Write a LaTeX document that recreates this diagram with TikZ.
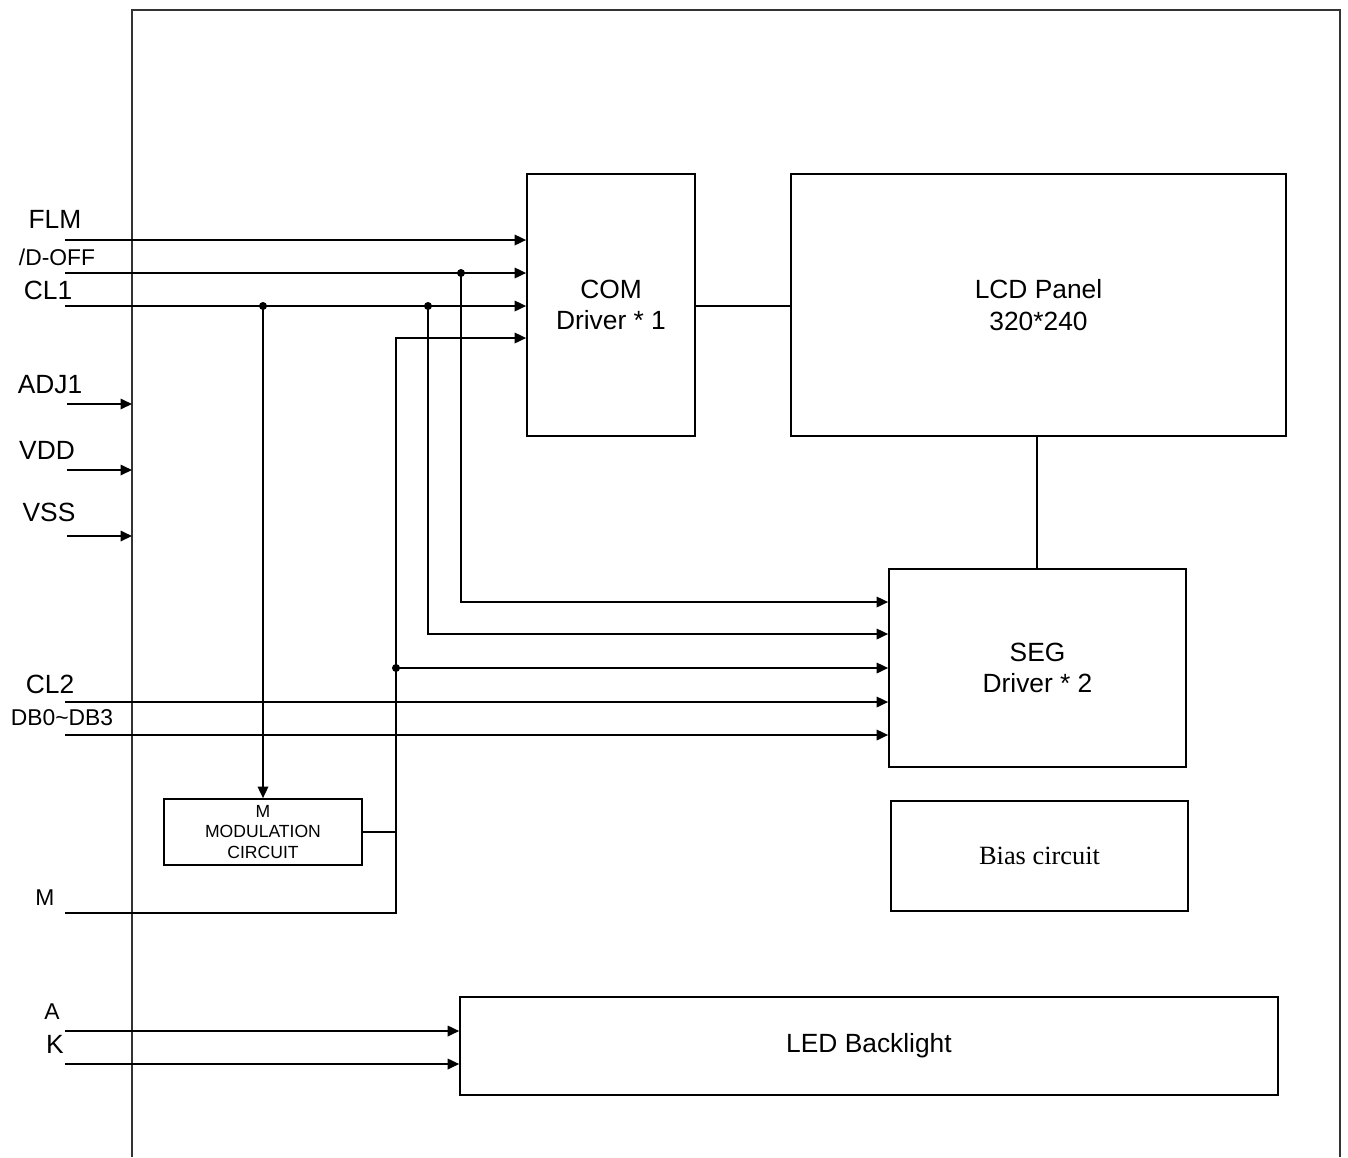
\documentclass[tikz,border=0pt]{standalone}
\usepackage{fontspec}
\setmainfont{Liberation Sans}
\newfontfamily\biasfont{Liberation Serif}
\usetikzlibrary{arrows.meta, positioning}

\begin{document}
\begin{tikzpicture}[
  x=0.02cm, y=-0.02cm,
  box/.style={rectangle, draw=black, line width=1pt, align=center,
              font=\fontsize{15}{18}\selectfont, inner sep=0pt},
  pinlbl/.style={font=\fontsize{15}{17}\selectfont, inner sep=0pt},
  smalllbl/.style={font=\fontsize{13}{15}\selectfont, inner sep=0pt},
  sig/.style={-{Triangle[length=2.3mm, width=2.1mm]}, line width=1pt},
  wire/.style={line width=1pt},
  dot/.style={circle, fill=black, inner sep=0pt, minimum size=0.16cm}
]
\useasboundingbox (0,0) rectangle (1348,1157);

% outer frame, open at the bottom
\coordinate (fbl) at (132,1157);
\coordinate (ftl) at (132,10);
\coordinate (ftr) at (1340,10);
\coordinate (fbr) at (1340,1157);
\draw[line width=1.2pt, black!80] (fbl) -- (ftl) -- (ftr) -- (fbr);

% blocks
\node[box, minimum width=3.36cm, minimum height=5.24cm] (com)  at (611,305)    {COM\\Driver * 1};
\node[box, minimum width=9.9cm,  minimum height=5.24cm] (lcd)  at (1038.5,305) {LCD Panel\\320*240};
\node[box, minimum width=5.94cm, minimum height=3.96cm] (seg)  at (1037.5,668) {SEG\\Driver * 2};
\node[box, minimum width=5.94cm, minimum height=2.2cm,
      font=\biasfont\fontsize{15}{18}\selectfont]       (bias) at (1039.5,856) {Bias circuit};
\node[box, minimum width=16.36cm, minimum height=1.96cm] (led) at (869,1046)   {LED Backlight};
\node[box, minimum width=3.96cm, minimum height=1.32cm,
      font=\fontsize{10}{11.5}\selectfont]              (mod)  at (263,832)    {M\\MODULATION\\CIRCUIT};

% pin labels
\node[pinlbl]   (lflm)  at (55,219)  {FLM};
\node[smalllbl] (ldoff) at (57,257)  {/D-OFF};
\node[pinlbl]   (lcl1)  at (48,290)  {CL1};
\node[pinlbl]   (ladj)  at (50,385)  {ADJ1};
\node[pinlbl]   (lvdd)  at (47,450)  {VDD};
\node[pinlbl]   (lvss)  at (49,512)  {VSS};
\node[pinlbl]   (lcl2)  at (50,684)  {CL2};
\node[smalllbl] (ldb)   at (62,718)  {DB0\textasciitilde DB3};
\node[smalllbl] (lm)    at (45,898)  {M};
\node[smalllbl] (la)    at (52,1012) {A};
\node[pinlbl]   (lk)    at (55,1044) {K};

% line starts
\coordinate (flm)  at (65,240);
\coordinate (doff) at (65,273);
\coordinate (cl1)  at (65,306);
\coordinate (adj)  at (67,404);
\coordinate (vdd)  at (67,470);
\coordinate (vss)  at (67,536);
\coordinate (cl2)  at (65,702);
\coordinate (db)   at (65,735);
\coordinate (m)    at (65,913);
\coordinate (a)    at (65,1031);
\coordinate (k)    at (65,1064);

% junctions and bends
\node[dot] (j1) at (461,273) {};
\node[dot] (j2) at (263,306) {};
\node[dot] (j3) at (428,306) {};
\node[dot] (j4) at (396,668) {};
\coordinate (b1)  at (461,602);
\coordinate (b2)  at (428,634);
\coordinate (mup) at (396,338);

% signals into COM driver
\draw[sig] (flm)  -- (flm -| com.west);
\draw[sig] (doff) -- (doff -| com.west);
\draw[sig] (cl1)  -- (cl1 -| com.west);
\draw[sig] (m) -- (m -| mup) -- (mup) -- (mup -| com.west);

% supply pins
\draw[sig] (adj) -- (adj -| ftl);
\draw[sig] (vdd) -- (vdd -| ftl);
\draw[sig] (vss) -- (vss -| ftl);

% signals into SEG driver
\draw[sig] (j1.center) -- (b1) -- (b1 -| seg.west);
\draw[sig] (j3.center) -- (b2) -- (b2 -| seg.west);
\draw[sig] (j4.center) -- (j4 -| seg.west);
\draw[sig] (cl2) -- (cl2 -| seg.west);
\draw[sig] (db)  -- (db -| seg.west);

% modulation circuit
\draw[sig] (j2.center) -- (mod.north);
\draw[wire] (mod.east) -- (mod.east -| mup);

% panel links
\draw[wire] (com.east |- cl1) -- (lcd.west |- cl1);
\draw[wire] (lcd.south -| 1037,0) -- (seg.north -| 1037,0);

% backlight
\draw[sig] (a) -- (a -| led.west);
\draw[sig] (k) -- (k -| led.west);
\end{tikzpicture}
\end{document}
